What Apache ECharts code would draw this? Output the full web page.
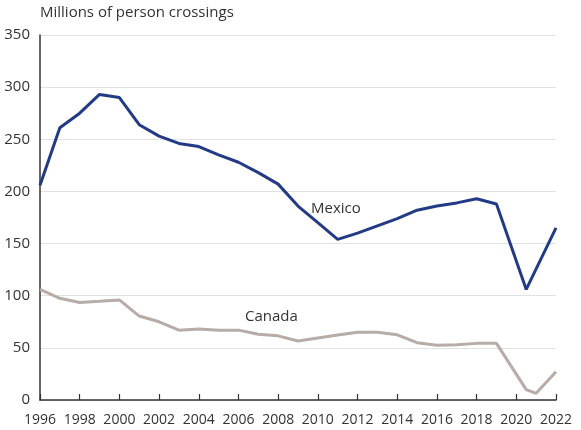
<!DOCTYPE html>
<html>
<head>
<meta charset="utf-8">
<script src="https://cdn.jsdelivr.net/npm/echarts@6/dist/echarts.min.js"></script>
<style>html,body{margin:0;padding:0;background:#fff}#c{width:581px;height:430px}</style>
</head>
<body>
<div id="c"></div>
<script>
var mexicoYears = [1996,1997,1998,1999,2000,2001,2002,2003,2004,2005,2006,2007,2008,2009,2010,2011,2012,2013,2014,2015,2016,2017,2018,2019,2020.5,2022];
var mexicoValues = [206,261,275,293,290,264,253,246,243,235,228,218,207,186,170,154,160,167,174,182,186,189,193,188,106,165];
var canadaYears = [1996,1997,1998,1999,2000,2001,2002,2003,2004,2005,2006,2007,2008,2009,2010,2011,2012,2013,2014,2015,2016,2017,2018,2019,2020.5,2021,2022];
var canadaValues = [106,97.5,93.5,94.6,96,80.5,75,67,68,67,67,63,61.5,56.6,59.5,62.3,65,65,62.5,55,52.5,53,54.3,54.3,10,6.4,27];
var yTicks = [0,50,100,150,200,250,300,350];
var seriesNames = ['Mexico','Canada'];
var yAxisTitle = 'Millions of person crossings';

function pairs(xs, ys){ return xs.map(function(x,i){ return [x, ys[i]]; }); }

var font = '"Open Sans", "Noto Sans", sans-serif';
var chart = echarts.init(document.getElementById('c'), null, {renderer:'canvas'});
chart.setOption({
  animation:false,
  grid:{left:40, right:25, top:35, bottom:30, containLabel:false},
  xAxis:{
    type:'value', min:1996, max:2022, interval:2,
    axisLine:{show:true, lineStyle:{color:'#333', width:1.5}},
    axisTick:{show:true, inside:true, length:6, lineStyle:{color:'#333', width:1.2}},
    axisLabel:{color:'#333', fontSize:14, fontFamily:font, margin:13, formatter:function(v){return String(v);}},
    splitLine:{show:false}
  },
  yAxis:{
    type:'value', min:yTicks[0], max:yTicks[yTicks.length-1], interval:50,
    axisLine:{show:true, lineStyle:{color:'#333', width:1.5}},
    axisTick:{show:false},
    axisLabel:{color:'#333', fontSize:15, fontFamily:font, margin:10},
    splitLine:{show:true, lineStyle:{color:'#e2e2e2', width:1}}
  },
  graphic:[
    {type:'text', left:40, top:5, style:{text:yAxisTitle, fill:'#333', font:'15px ' + font}},
    {type:'text', left:311, top:201, style:{text:seriesNames[0], fill:'#333', font:'15px ' + font}},
    {type:'text', left:245, top:309, style:{text:seriesNames[1], fill:'#333', font:'15px ' + font}}
  ],
  series:[
    {name:seriesNames[0], type:'line', data:pairs(mexicoYears, mexicoValues), showSymbol:false, symbol:'none',
     lineStyle:{color:'#233a85', width:3}, z:3},
    {name:seriesNames[1], type:'line', data:pairs(canadaYears, canadaValues), showSymbol:false, symbol:'none',
     lineStyle:{color:'#b6aca8', width:3}, z:2}
  ]
});
</script>
</body>
</html>
